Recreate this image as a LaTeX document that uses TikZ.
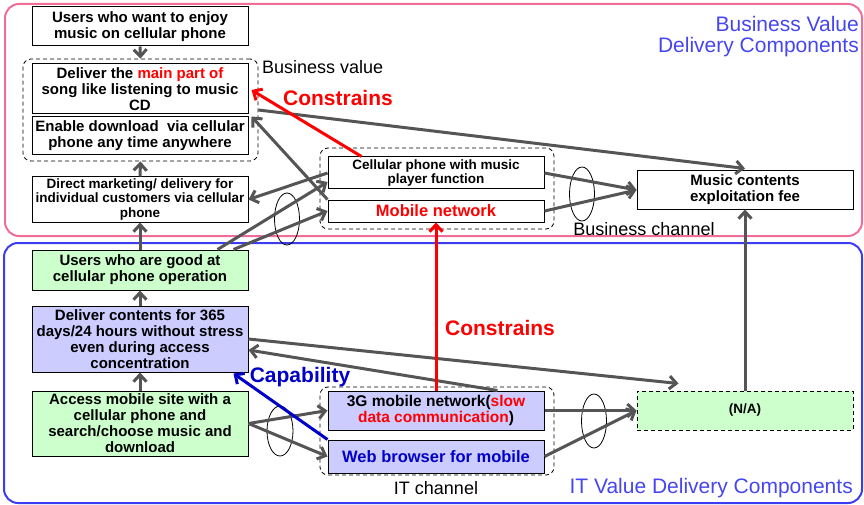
\documentclass[tikz,border=0pt]{standalone}
\usepackage{fontspec}
\setmainfont{Liberation Sans}
\usetikzlibrary{arrows.meta,calc,shapes.geometric}

\definecolor{boxgreen}{RGB}{204,255,204}
\definecolor{boxlav}{RGB}{204,204,255}
\definecolor{linkgray}{RGB}{85,85,85}
\definecolor{framepink}{RGB}{240,110,150}
\definecolor{frameblue}{RGB}{60,60,240}
\definecolor{labelblue}{RGB}{70,70,240}
\definecolor{capblue}{RGB}{0,0,200}
\definecolor{redtxt}{RGB}{255,0,0}

\tikzset{
  box/.style={draw=black, line width=1pt, minimum width=216pt, inner sep=0pt,
    align=center, font=\bfseries\fontsize{15}{16}\selectfont},
  smallbox/.style={box, font=\bfseries\fontsize{13.5}{14.5}\selectfont},
  grn/.style={fill=boxgreen},
  lav/.style={fill=boxlav},
  grpbox/.style={draw=black, line width=0.8pt, dash pattern=on 4pt off 3pt,
    rounded corners=8pt, inner sep=0pt},
  frame/.style={line width=2pt, rounded corners=14pt, inner sep=0pt},
  ring/.style={ellipse, draw=black, line width=0.8pt, inner sep=0pt},
  link/.style={draw=linkgray, line width=3pt,
    -{Straight Barb[length=7pt,width=13pt]}},
  redlink/.style={draw=redtxt, line width=3pt,
    -{Straight Barb[length=7pt,width=13pt]}},
  bluelink/.style={draw=capblue, line width=3pt,
    -{Straight Barb[length=7pt,width=13pt]}},
  plainlbl/.style={inner sep=0pt, font=\fontsize{18}{20}\selectfont},
  biglbl/.style={inner sep=0pt, font=\bfseries\fontsize{21}{24}\selectfont},
  layerlbl/.style={inner sep=0pt, text=labelblue, align=right,
    font=\fontsize{21}{21}\selectfont}
}

\begin{document}
\begin{tikzpicture}[x=1pt, y=-1pt]
\useasboundingbox (0,0) rectangle (864,505);

% layer frames
\node[frame, draw=framepink, minimum width=857pt, minimum height=232pt] (bizframe) at (433.5,120) {};
\node[frame, draw=frameblue, minimum width=858pt, minimum height=260pt] (itframe) at (433,373) {};

% layer titles
\node[layerlbl, anchor=north east] (biztitle) at (859,16) {Business Value\hspace{6pt}\\[0pt]Delivery Components};
\node[layerlbl, anchor=east] (ittitle) at (853,488) {IT Value Delivery Components};

% dashed groups
\node[grpbox, minimum width=235pt, minimum height=102pt] (grpBV) at (140.5,110) {};
\node[grpbox, minimum width=234pt, minimum height=81pt] (grpBC) at (437,188.5) {};
\node[grpbox, minimum width=234pt, minimum height=88pt] (grpIT) at (437,431) {};

% business layer boxes
\node[box, minimum height=39pt] (usersWant) at (140,26.5) {Users who want to enjoy\\music on cellular phone};
\node[box, fill=white, minimum height=50pt] (mainPart) at (140,89) {Deliver the {\color{redtxt}main part of}\\song like listening to music\\CD};
\node[box, fill=white, minimum height=38pt] (anyTime) at (140,136) {Enable download\ \ via cellular\\phone any time anywhere};
\node[smallbox, minimum height=45pt] (direct) at (140,199.5) {Direct marketing/ delivery for\\individual customers via cellular\\phone};
\node[smallbox, fill=white, minimum height=32pt] (cellPhone) at (436,173) {Cellular phone with music\\player function};
\node[box, fill=white, minimum height=22pt, text=redtxt, font=\bfseries\fontsize{16.5}{17}\selectfont] (mobileNet) at (436,211) {Mobile network};
\node[box, minimum height=38pt] (fee) at (745,190) {Music contents\\exploitation fee};

% IT layer boxes
\node[box, grn, minimum height=40pt] (usersGood) at (140,270) {Users who are good at\\cellular phone operation};
\node[box, lav, minimum height=66pt] (deliver) at (140,339) {Deliver contents for 365\\days/24 hours without stress\\even during access\\concentration};
\node[box, grn, minimum height=65pt] (access) at (140,423.5) {Access mobile site with a\\cellular phone and\\search/choose music and\\download};
\node[box, lav, minimum height=39pt, font=\bfseries\fontsize{15.5}{16.5}\selectfont] (net3G) at (436,410.5) {3G mobile network({\color{redtxt}slow}\\{\color{redtxt}data communication})};
\node[box, lav, minimum height=33pt, text=capblue, font=\bfseries\fontsize{16.5}{17}\selectfont] (browser) at (436,456.5) {Web browser for mobile};
\node[box, grn, minimum height=39pt, dash pattern=on 4pt off 3pt, font=\bfseries\fontsize{13.5}{14.5}\selectfont] (na) at (745,410.5) {(N/A)};

% grouping rings
\node[ring, minimum width=25pt, minimum height=52pt] (ringA) at (287,219) {};
\node[ring, minimum width=25pt, minimum height=54pt] (ringB) at (582,194) {};
\node[ring, minimum width=26pt, minimum height=50pt] (ringC) at (280,431) {};
\node[ring, minimum width=25pt, minimum height=54pt] (ringD) at (594,421) {};

% plain labels
\node[plainlbl, anchor=west] (bvLbl) at (262,67) {Business value};
\node[plainlbl] (bcLbl) at (644,229) {Business channel};
\node[plainlbl] (itLbl) at (436,488) {IT channel};
\node[biglbl, text=redtxt] (consUp) at (338,98) {Constrains};
\node[biglbl, text=redtxt] (consLow) at (500,328) {Constrains};
\node[biglbl, text=capblue] (capLbl) at (300,377) {Capability};

% vertical flow on the left
\draw[link] (usersWant.south) -- (grpBV.north);
\draw[link] (direct.north) -- (grpBV.south);
\draw[link] (usersGood.north) -- (direct.south);
\draw[link] (deliver.north) -- (usersGood.south);
\draw[link] (access.north) -- (deliver.south);

% business channel links
\draw[link] (cellPhone.west) -- (direct.east);
\draw[link] ($(usersGood.north east)+(-31,0)$) -- ($(cellPhone.west)+(0,9)$);
\draw[link] ($(usersGood.north east)+(-15,0)$) -- (mobileNet.west);
\draw[link] (mobileNet.north west) -- ($(anyTime.north east)+(3,0)$);
\draw[link] (grpBV.east) -- ($(fee.north)+(0,-2)$);
\draw[link] (cellPhone.east) -- (fee.west);
\draw[link] (mobileNet.east) -- (fee.west);

% IT channel links
\draw[link] (access.east) -- (net3G.west);
\draw[link] (access.east) -- (browser.west);
\draw[link] (net3G.east) -- (na.west);
\draw[link] (browser.east) -- (na.west);
\draw[link] (deliver.east) -- ($(na.north west)+(42,-7)$);
\draw[link] ($(net3G.north east)+(-47,0)$) -- ($(deliver.east)+(0,11)$);
\draw[link] (na.north) -- (fee.south);

% constraint and capability links
\draw[redlink] ($(cellPhone.north west)+(34,0)$) -- ($(mainPart.east)+(3,1)$);
\draw[redlink] (net3G.north) -- (mobileNet.south);
\draw[bluelink] (browser.north west) -- ($(deliver.south east)+(-15,1)$);
\end{tikzpicture}
\end{document}
